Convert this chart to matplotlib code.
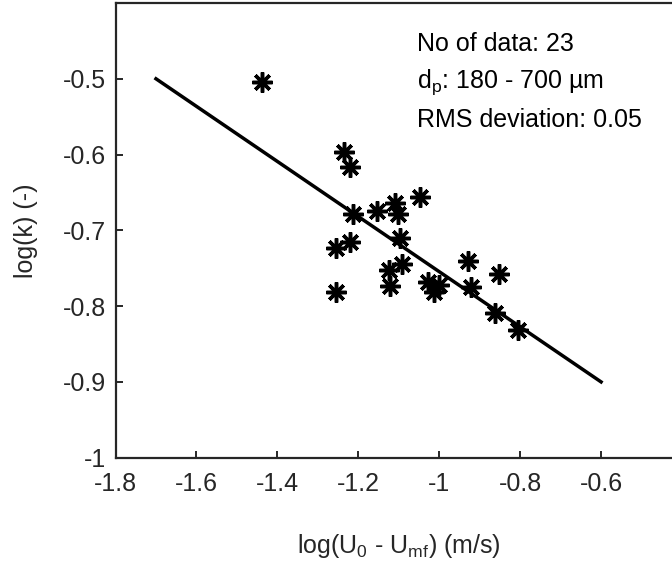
import matplotlib
matplotlib.use("Agg")
import matplotlib.pyplot as plt
import numpy as np

plt.rcParams['font.family'] = ['Liberation Sans', 'DejaVu Sans']
plt.rcParams['mathtext.default'] = 'regular'

# measured points: log(U0 - Umf) vs log(k)
log_u = [-1.437, -1.235, -1.220, -1.213, -1.254, -1.220, -1.254, -1.153,
         -1.109, -1.102, -1.048, -1.097, -1.092, -1.124, -1.121, -1.028,
         -1.001, -1.013, -0.929, -0.922, -0.853, -0.863, -0.806]
log_k = [-0.504, -0.596, -0.617, -0.679, -0.723, -0.715, -0.782, -0.675,
         -0.664, -0.679, -0.656, -0.710, -0.744, -0.752, -0.773, -0.768,
         -0.772, -0.782, -0.741, -0.775, -0.757, -0.809, -0.831]

# correlation line end points
fit_x = [-1.7, -0.6]
fit_y = [-0.5, -0.9]

info_lines = ["No of data: 23", "d$_p$: 180 - 700 \u00b5m", "RMS deviation: 0.05"]

xticks = [-1.8, -1.6, -1.4, -1.2, -1.0, -0.8, -0.6]
xticklabels = ["-1.8", "-1.6", "-1.4", "-1.2", "-1", "-0.8", "-0.6"]
yticks = [-1.0, -0.9, -0.8, -0.7, -0.6, -0.5]
yticklabels = ["-1", "-0.9", "-0.8", "-0.7", "-0.6", "-0.5"]

fig = plt.figure(figsize=(6.72, 5.75), dpi=100)
# right edge of the box falls outside the picture, like the original
ax = fig.add_axes([0.1719, 0.204, 0.843, 0.7908])

ax.plot(fit_x, fit_y, color="black", lw=2.5, zorder=2)
ax.plot(log_u, log_k, linestyle="none", marker=(8, 2, 0), markersize=14.5,
        markeredgewidth=2.5, color="black", zorder=3)

ax.set_xlim(-1.8, -0.4)
ax.set_ylim(-1.0, -0.4)
ax.set_xticks(xticks)
ax.set_xticklabels(xticklabels)
ax.set_yticks(yticks)
ax.set_yticklabels(yticklabels)

dark = "#262626"
for s in ax.spines.values():
    s.set_linewidth(1.6)
    s.set_color(dark)
ax.tick_params(direction="in", length=5, width=1.4, colors=dark,
               labelsize=18, labelcolor=dark, top=False, right=False)
ax.tick_params(axis="x", pad=10)
ax.tick_params(axis="y", pad=7)

ax.set_xlabel("log(U$_0$ - U$_{mf}$) (m/s)", fontsize=18, color=dark, labelpad=26)
ax.set_ylabel("log(k) (-)", fontsize=18, color=dark, labelpad=18)

for i, line in enumerate(info_lines):
    ax.text(-1.055, -0.4535 - 0.0505 * i, line, fontsize=18, color="black",
            va="center", ha="left")

fig.savefig("out.png", dpi=100)
